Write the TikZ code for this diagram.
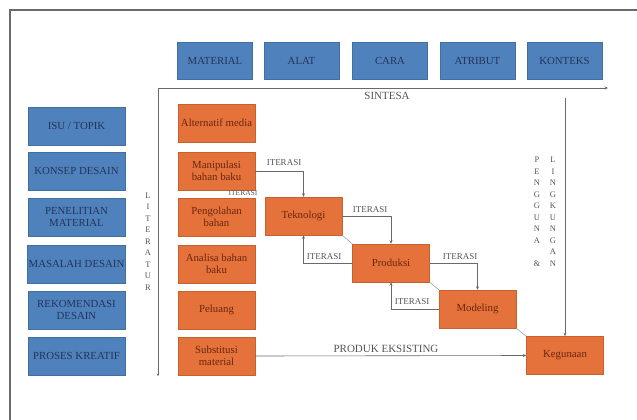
\documentclass[tikz,border=0pt]{standalone}
\usepackage{fontspec}
\setmainfont{Liberation Serif}
\usetikzlibrary{arrows.meta}
\definecolor{bluefill}{HTML}{4F81BD}
\definecolor{blueline}{HTML}{41709F}
\definecolor{orangefill}{HTML}{E5723A}
\definecolor{orangeline}{HTML}{C9612E}
\definecolor{bluetext}{HTML}{24345A}
\definecolor{orangetext}{HTML}{6A2610}
\definecolor{linegray}{HTML}{6A6A6A}
\definecolor{labelgray}{HTML}{555555}
\begin{document}
\begin{tikzpicture}[x=1pt,y=-1pt,
  >={Stealth[length=3.5pt,width=3pt]},
  bbox/.style={fill=bluefill, draw=blueline, line width=0.4pt, inner sep=1pt, align=center,
    text=bluetext, font=\fontsize{10.8}{12.5}\selectfont},
  leftbox/.style={bbox, minimum width=97pt, minimum height=38pt},
  topbox/.style={bbox, minimum width=75pt, minimum height=37pt},
  obox/.style={fill=orangefill, draw=orangeline, line width=0.4pt, inner sep=1pt, align=center,
    text=orangetext, minimum width=77pt, minimum height=38pt, font=\fontsize{10.8}{12.5}\selectfont},
  conn/.style={draw=linegray, line width=0.6pt},
  diag/.style={draw=linegray!70, line width=0.5pt},
  lbl/.style={text=labelgray, inner sep=0pt, font=\fontsize{9}{9.5}\selectfont},
  biglbl/.style={text=labelgray, inner sep=0pt, font=\fontsize{11}{11.5}\selectfont},
  vlbl/.style={text=labelgray, inner sep=0pt, align=center, font=\fontsize{8.5}{11.5}\selectfont}
]
\useasboundingbox (0,0) rectangle (637,420);
% frame
\draw[line width=1.3pt, linegray] (10,420) -- (10,10) -- (637,10);

% top boxes
\node[topbox] (material) at (215,60.5) {MATERIAL};
\node[topbox] (alat) at (301.5,60.5) {ALAT};
\node[topbox] (cara) at (390,60.5) {CARA};
\node[topbox] (atribut) at (477.5,60.5) {ATRIBUT};
\node[topbox] (konteks) at (564.5,60.5) {KONTEKS};

% left boxes
\node[leftbox] (isu) at (76.5,126) {ISU / TOPIK};
\node[leftbox] (konsep) at (76.5,171) {KONSEP DESAIN};
\node[leftbox] (penelitian) at (76.5,217) {PENELITIAN\\MATERIAL};
\node[leftbox] (masalah) at (76.5,264) {MASALAH DESAIN};
\node[leftbox] (rekom) at (76.5,310) {REKOMENDASI\\DESAIN};
\node[leftbox] (proses) at (76.5,356) {PROSES KREATIF};

% orange column
\node[obox] (alt) at (216.5,123) {Alternatif media};
\node[obox] (manip) at (216.5,171) {Manipulasi\\bahan baku};
\node[obox] (peng) at (216.5,217) {Pengolahan\\bahan};
\node[obox] (anal) at (216.5,264) {Analisa bahan\\baku};
\node[obox] (pel) at (216.5,310) {Peluang};
\node[obox] (subs) at (216.5,356) {Substitusi\\material};

% process boxes
\node[obox] (tek) at (303.5,216) {Teknologi};
\node[obox] (prod) at (391,263) {Produksi};
\node[obox] (mod) at (477.5,309) {Modeling};
\node[obox] (keg) at (565,355.5) {Kegunaan};

% literatur / sintesa L-line
\coordinate (litB) at (158,376);
\coordinate (corner) at (158,88);
\coordinate (sinE) at (608,88);
\draw[conn, {Stealth[length=2.5pt,width=2.5pt]}-{Stealth[length=3.5pt,width=3pt]}] (litB) -- (corner) -- (sinE);
\node[biglbl] (sintesa) at (387,96) {SINTESA};
\node[vlbl] (literatur) at (148,241.5) {L\\I\\T\\E\\R\\A\\T\\U\\R};

% pengguna & lingkungan
\coordinate (pgTop) at (565,98);
\draw[conn,->] (pgTop) -- (keg.north);
\node[vlbl, anchor=north] (pengguna) at (537,157) {P\\E\\N\\G\\G\\U\\N\\A\\ \\\&};
\node[vlbl, anchor=north] (lingk) at (553,157) {L\\I\\N\\G\\K\\U\\N\\G\\A\\N};

% iterasi connectors
\draw[conn,->] (manip.east) -| (tek.north);
\node[lbl] (it1) at (284,163) {ITERASI};
\node[lbl, font=\fontsize{7.5}{8}\selectfont] (it0) at (243,193.5) {ITERASI};
\draw[conn,->] (tek.east) -| (prod.north);
\node[lbl] (it2) at (370,210) {ITERASI};
\draw[conn,->] (prod.west) -| (tek.south);
\node[lbl] (it3) at (324,256.5) {ITERASI};
\draw[conn,->] (prod.east) -| (mod.north);
\node[lbl] (it4) at (460,256.5) {ITERASI};
\draw[conn,->] (mod.west) -| (prod.south);
\node[lbl] (it5) at (412,302) {ITERASI};

% diagonals
\draw[diag] (tek.south east) -- (prod.north west);
\draw[diag] (prod.south east) -- (mod.north west);
\draw[diag] (mod.south east) -- (keg.north west);

% produk eksisting
\draw[conn,->] (subs.east) -- (keg.west);
\node[biglbl] (produk) at (386,349) {PRODUK EKSISTING};
\end{tikzpicture}
\end{document}
